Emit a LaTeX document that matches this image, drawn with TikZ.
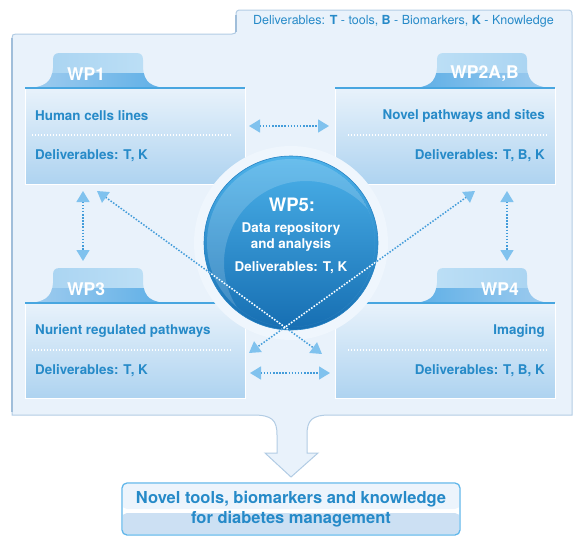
\documentclass[tikz,border=0pt]{standalone}
\usepackage{fontspec}
\setmainfont{TeX Gyre Heros}
\usetikzlibrary{arrows.meta}
\definecolor{panelbg}{RGB}{233,242,251}
\definecolor{paneledge}{RGB}{178,204,228}
\definecolor{halo}{RGB}{239,246,253}
\definecolor{txtblue}{RGB}{38,138,200}
\definecolor{boxtop}{RGB}{232,242,251}
\definecolor{boxbot}{RGB}{174,211,240}
\definecolor{tablight}{RGB}{166,210,241}
\definecolor{tabpale}{RGB}{192,225,246}
\definecolor{tabdark}{RGB}{92,174,230}
\definecolor{tabmid}{RGB}{162,205,239}
\definecolor{lineblue}{RGB}{72,166,224}
\definecolor{arrowblue}{RGB}{66,156,218}
\definecolor{headblue}{RGB}{128,194,238}
\definecolor{circtop}{RGB}{76,178,234}
\definecolor{circbot}{RGB}{22,110,178}
\definecolor{bbedge}{RGB}{96,182,234}
\definecolor{bbtop}{RGB}{236,244,252}
\definecolor{bbbot}{RGB}{204,224,243}
\definecolor{edgedark}{RGB}{160,190,218}
\newcommand\tabLpath{(0,0) .. controls (20,0) and (27,-6) .. (28,-20) -- (28,-28) .. controls (28,-33) and (30,-35) .. (35,-35) -- (111,-35) .. controls (116,-35) and (118,-33) .. (118,-28) -- (118,-20) .. controls (119,-6) and (126,0) .. (145,0) -- cycle}
\newcommand\tabRpath{(0,0) .. controls (-20,0) and (-27,-6) .. (-28,-20) -- (-28,-28) .. controls (-28,-33) and (-30,-35) .. (-35,-35) -- (-111,-35) .. controls (-116,-35) and (-118,-33) .. (-118,-28) -- (-118,-20) .. controls (-119,-6) and (-126,0) .. (-145,0) -- cycle}
\tikzset{
  wpbody/.style={top color=boxtop,bottom color=boxbot,draw=white,line width=0.8pt},
  bodytxt/.style={font=\fontsize{13.4}{15}\selectfont\bfseries,text=txtblue,inner sep=0pt},
  tabtxt/.style={font=\fontsize{17.5}{19}\selectfont\bfseries,text=white,inner sep=0pt},
  circtxt/.style={font=\fontsize{13.4}{15}\selectfont\bfseries,text=white,inner sep=0pt},
  sepline/.style={white,line width=1.2pt,dash pattern=on 1.4pt off 1.6pt},
  tabline/.style={lineblue,line width=2pt},
  link/.style={arrowblue,line width=1.5pt,dash pattern=on 1.5pt off 1.6pt,
    {Triangle[length=11pt,width=13pt,color=headblue]}-{Triangle[length=11pt,width=13pt,color=headblue]}},
  whitedots/.style={white,line width=1.5pt,dash pattern=on 1.5pt off 1.6pt,shorten <=11pt,shorten >=11pt},
}
\begin{document}
\begin{tikzpicture}[x=1pt,y=-1pt]
\useasboundingbox (0,0) rectangle (584,547);
% panel
\path[fill=panelbg,draw=paneledge,line width=1pt]
  (12,415) -- (12,38) .. controls (12,35) and (13,34) .. (16,34) -- (232,34)
  .. controls (235,34) and (236,33) .. (236,30) -- (236,15)
  .. controls (236,11) and (237,10) .. (241,10) -- (567,10)
  .. controls (571,10) and (572,11) .. (572,15) -- (572,415) -- (330,415)
  .. controls (312,415) and (307,420) .. (307,435) -- (307,453) -- (318,453)
  -- (291,477) -- (265,453) -- (277,453) -- (277,435)
  .. controls (277,420) and (272,415) .. (253,415) -- cycle;
\draw[edgedark,line width=1.6pt] (12,412) -- (12,38);
\draw[edgedark,line width=1.4pt] (236,32) -- (236,15);
\node[font=\fontsize{12.5}{14}\selectfont,text=txtblue,inner sep=0pt,anchor=west] (legend) at (253,21)
  {Deliverables: \textbf{T} - tools, \textbf{B} - Biomarkers, \textbf{K} - Knowledge};
% boxes
\shade[wpbody] (25,88) rectangle (245,184);
\shade[wpbody] (335,88) rectangle (555,184);
\shade[wpbody] (25,303) rectangle (245,398);
\shade[wpbody] (335,303) rectangle (555,398);
\foreach \x/\y in {25/88,25/303}{
  \begin{scope}[shift={(\x,\y)}]
    \shade[left color=tablight,right color=tabpale] \tabLpath;
    \begin{scope}\clip \tabLpath;
      \shade[left color=tabmid,right color=tabdark] (0,-15) rectangle (145,1);
    \end{scope}
    \draw[tabline] (0,0) -- (220,0);
  \end{scope}}
\foreach \x/\y in {555/88,555/303}{
  \begin{scope}[shift={(\x,\y)}]
    \shade[left color=tabpale,right color=tablight] \tabRpath;
    \begin{scope}\clip \tabRpath;
      \shade[left color=tabdark,right color=tabmid] (-145,-15) rectangle (0,1);
    \end{scope}
    \draw[tabline] (0,0) -- (-220,0);
  \end{scope}}
% separators
\draw[sepline] (32,135) -- (232,135);
\draw[sepline] (348,135) -- (548,135);
\draw[sepline] (32,350) -- (232,350);
\draw[sepline] (348,350) -- (548,350);
% halo and WP5
\fill[halo] (291,243) circle[radius=97];
\node[circle,minimum size=174pt,inner sep=0pt,top color=circtop,bottom color=circbot,
  draw=circbot!70!circtop,line width=0.6pt] (wp5) at (291,243) {};
\begin{scope}
  \clip (291,243) circle[radius=84];
  \fill[white,opacity=0.17,even odd rule] (291,243) circle[radius=84] (306,263) circle[radius=82];
\end{scope}
% tab labels
\node[tabtxt,anchor=west] (wp1) at (67,74) {WP1};
\node[tabtxt,anchor=east] (wp2) at (519,74) {WP2A,B};
\node[tabtxt,anchor=west] (wp3) at (67,289) {WP3};
\node[tabtxt,anchor=east] (wp4) at (519,289) {WP4};
% body texts
\node[bodytxt,anchor=west] (t1a) at (35,116) {Human cells lines};
\node[bodytxt,anchor=west] (t1b) at (35,156) {Deliverables: T, K};
\node[bodytxt,anchor=east] (t2a) at (545,116) {Novel pathways and sites};
\node[bodytxt,anchor=east] (t2b) at (545,156) {Deliverables: T, B, K};
\node[bodytxt,anchor=west] (t3a) at (35,331) {Nurient regulated pathways};
\node[bodytxt,anchor=west] (t3b) at (35,371) {Deliverables: T, K};
\node[bodytxt,anchor=east] (t4a) at (545,331) {Imaging};
\node[bodytxt,anchor=east] (t4b) at (545,371) {Deliverables: T, B, K};
% WP5 text
\node[circtxt,font=\fontsize{18.5}{20}\selectfont\bfseries] (wp5t) at (292,205) {WP5:};
\node[circtxt] (wp5a) at (291,229) {Data repository};
\node[circtxt] (wp5b) at (291,245) {and analysis};
\node[circtxt] (wp5c) at (291,268) {Deliverables: T, K};
% connectors
\coordinate (h1a) at (249,126); \coordinate (h1b) at (329,126);
\coordinate (h2a) at (250,373); \coordinate (h2b) at (330,373);
\coordinate (v1a) at (83,191);  \coordinate (v1b) at (83,261);
\coordinate (v2a) at (507,191); \coordinate (v2b) at (507,261);
\coordinate (d1a) at (97,191);  \coordinate (d1b) at (322,354);
\coordinate (d2a) at (475,191); \coordinate (d2b) at (249,353);
\draw[link] (h1a) -- (h1b);
\draw[link] (h2a) -- (h2b);
\draw[link] (v1a) -- (v1b);
\draw[link] (v2a) -- (v2b);
\draw[link] (d1a) -- (d1b);
\draw[link] (d2a) -- (d2b);
\begin{scope}
  \clip (291,243) circle[radius=86.5];
  \draw[whitedots] (d1a) -- (d1b);
  \draw[whitedots] (d2a) -- (d2b);
\end{scope}
% output box
\node[draw=bbedge,line width=1.3pt,rounded corners=5pt,minimum width=338pt,minimum height=52pt,
  inner sep=0pt,align=center,text=txtblue,font=\fontsize{16.5}{20}\selectfont\bfseries,
  path picture={\fill[bbtop] (path picture bounding box.north west) rectangle (path picture bounding box.east);
    \fill[bbbot] ([yshift=-4pt]path picture bounding box.west) rectangle (path picture bounding box.south east);
    \draw[white,line width=1.6pt,rounded corners=4pt] (path picture bounding box.north west) rectangle (path picture bounding box.south east);}]
  (out) at (291,509) {Novel tools, biomarkers and knowledge\\for diabetes management};
\end{tikzpicture}
\end{document}
